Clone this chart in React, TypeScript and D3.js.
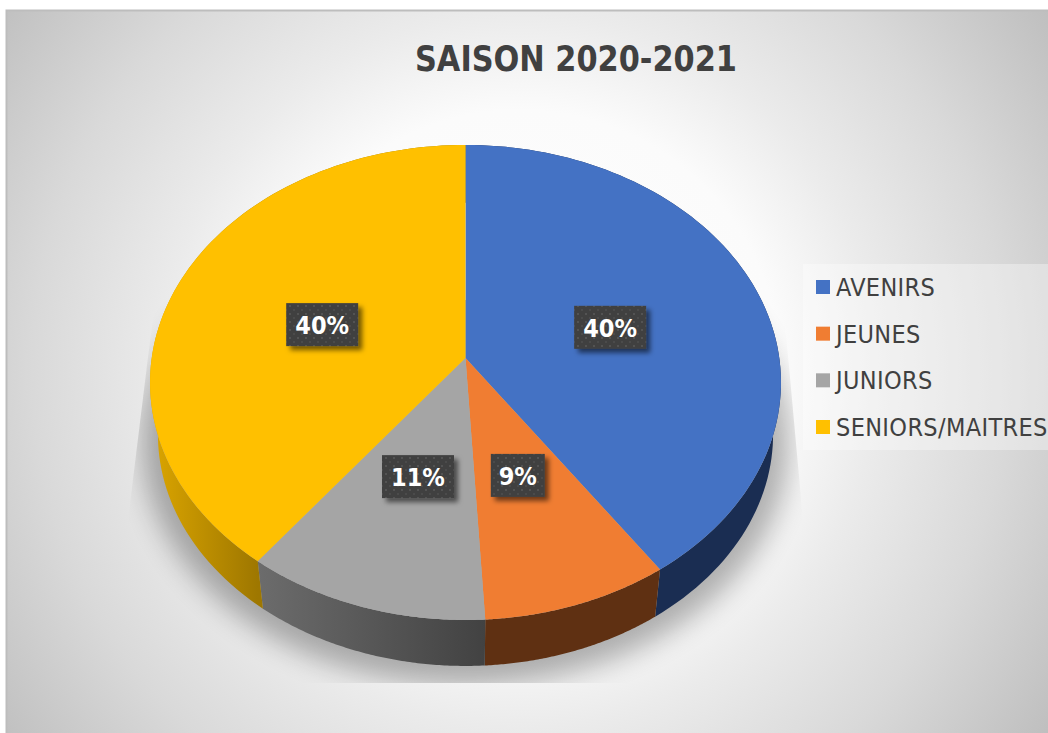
import React, { useEffect, useRef } from 'react'
import * as d3 from 'd3'

const categories = ['AVENIRS', 'JEUNES', 'JUNIORS', 'SENIORS/MAITRES']
const values = [40.4, 8.7, 11.3, 39.6]
const faceColors = ['#4472c4', '#f07d32', '#a5a5a5', '#ffc000']
const wallFrom = ['#1a2d52', '#5f3012', '#6c6c6c', '#dba500']
const wallTo = ['#1a2d52', '#5f3012', '#424242', '#9e7700']
const title = 'SAISON 2020-2021'

const width = 1048, height = 733
const apex = { x: 465.5, y: 358 }
const radiusX = 313.8, radiusY = 235, tilt = 0.103
const wallDrop = 52.5, wallScale = 0.975
const fontFamily = '"DejaVu Sans", sans-serif'

// perspective: the near half of the disc is drawn bigger than the far half
const project = (angle: number, r = 1, drop = 0, scale = 1): [number, number] => {
  const u = Math.sin(angle) * r
  const v = -Math.cos(angle) * r
  const k = 1 - tilt * v
  return [
    apex.x + (radiusX * u * scale) / k,
    apex.y + drop + (radiusY * v * scale) / k,
  ]
}

const rim = (a0: number, a1: number, drop = 0, scale = 1) =>
  d3.range(0, 91).map(i => project(a0 + ((a1 - a0) * i) / 90, 1, drop, scale))

export default function App() {
  const ref = useRef<SVGSVGElement>(null)

  useEffect(() => {
    const svg = d3.select(ref.current)
    svg.selectAll('*').remove()
    const defs = svg.append('defs')

    const bg = defs.append('radialGradient')
      .attr('id', 'bg').attr('gradientUnits', 'userSpaceOnUse')
      .attr('cx', 520).attr('cy', 370).attr('r', 650)
    const bgStops: [number, string][] = [[0, '#ffffff'], [0.4, '#fbfbfb'], [0.55, '#ebebeb'], [0.75, '#d9d9d9'], [1, '#bdbdbd']]
    bgStops.forEach(([o, c]) => bg.append('stop').attr('offset', o).attr('stop-color', c))

    defs.append('filter').attr('id', 'pieShadow')
      .attr('x', '-20%').attr('y', '-20%').attr('width', '140%').attr('height', '140%')
      .append('feGaussianBlur').attr('stdDeviation', 14)

    const labelShadow = defs.append('filter').attr('id', 'labelShadow')
      .attr('x', '-20%').attr('y', '-20%').attr('width', '150%').attr('height', '150%')
    labelShadow.append('feDropShadow')
      .attr('dx', 4).attr('dy', 4).attr('stdDeviation', 2.5)
      .attr('flood-color', '#000').attr('flood-opacity', 0.55)

    const dots = defs.append('pattern').attr('id', 'dots')
      .attr('patternUnits', 'userSpaceOnUse').attr('width', 8).attr('height', 8)
    dots.append('rect').attr('width', 8).attr('height', 8).attr('fill', '#404040')
    dots.append('rect').attr('x', 1).attr('y', 1).attr('width', 2).attr('height', 2).attr('fill', '#525252')
    dots.append('rect').attr('x', 5).attr('y', 5).attr('width', 2).attr('height', 2).attr('fill', '#4c4c4c')

    const pie = d3.pie<number>().sort(null)(values)
    const line = d3.line()

    pie.forEach((d, i) => {
      const [x0] = project(d.startAngle)
      const [x1] = project(d.endAngle)
      const g = defs.append('linearGradient').attr('id', `wall${i}`)
        .attr('gradientUnits', 'userSpaceOnUse')
        .attr('x1', Math.min(x0, x1, i === 3 ? apex.x - radiusX : x0)).attr('x2', i === 3 ? x0 : Math.max(x0, x1))
        .attr('y1', 0).attr('y2', 0)
      g.append('stop').attr('offset', 0).attr('stop-color', wallFrom[i])
      g.append('stop').attr('offset', 1).attr('stop-color', wallTo[i])
    })

    const shadowClip = defs.append('clipPath').attr('id', 'shadowClip')
    shadowClip.append('path').attr('d', line([
      [155, 300], [128, 520], [128, 683], [803, 683], [803, 520], [783, 300],
    ]))

    svg.append('rect')
      .attr('x', 6.5).attr('y', 10.5).attr('width', width).attr('height', height)
      .attr('fill', 'url(#bg)').attr('stroke', '#bdbdbd').attr('stroke-width', 2)

    svg.append('g').attr('clip-path', 'url(#shadowClip)')
      .append('path')
      .attr('d', line(rim(0, 2 * Math.PI, wallDrop + 6, 1.025)))
      .attr('fill', '#000').attr('opacity', 0.3)
      .attr('filter', 'url(#pieShadow)')

    const walls = svg.append('g')
    pie.forEach((d, i) => {
      walls.append('path')
        .attr('d', line([
          ...rim(d.startAngle, d.endAngle),
          ...rim(d.endAngle, d.startAngle, wallDrop, wallScale),
        ]) + 'Z')
        .attr('fill', `url(#wall${i})`)
    })

    const faces = svg.append('g')
    pie.forEach((d, i) => {
      faces.append('path')
        .attr('d', line([[apex.x, apex.y], ...rim(d.startAngle, d.endAngle)]) + 'Z')
        .attr('fill', faceColors[i])
    })

    const labels = svg.append('g')
    pie.forEach(d => {
      const text = d3.format('.0f')(d.value) + '%'
      const [cx, cy0] = project((d.startAngle + d.endAngle) / 2, 0.49)
      const cy = cy0 + 3
      const w = 36 + 18 * (text.length - 1)
      labels.append('rect')
        .attr('x', cx - w / 2).attr('y', cy - 21.5).attr('width', w).attr('height', 43)
        .attr('fill', 'url(#dots)').attr('filter', 'url(#labelShadow)')
      labels.append('text')
        .attr('x', cx).attr('y', cy + 9.5)
        .attr('text-anchor', 'middle')
        .attr('font-family', fontFamily).attr('font-stretch', 'condensed')
        .attr('font-weight', 700).attr('font-size', 25).attr('fill', '#fff')
        .text(text)
    })

    svg.append('text')
      .attr('x', 576).attr('y', 71)
      .attr('text-anchor', 'middle')
      .attr('font-family', fontFamily).attr('font-stretch', 'condensed')
      .attr('font-weight', 700).attr('font-size', 35).attr('fill', '#404040')
      .attr('textLength', 322).attr('lengthAdjust', 'spacingAndGlyphs')
      .text(title)

    svg.append('rect')
      .attr('x', 803).attr('y', 264).attr('width', 245).attr('height', 186)
      .attr('fill', '#fff').attr('opacity', 0.35)

    const legendY = d3.scalePoint<string>().domain(categories).range([287, 427])
    const legend = svg.append('g').selectAll('g').data(categories).join('g')
      .attr('transform', d => `translate(816,${legendY(d)})`)
    legend.append('rect')
      .attr('y', -7).attr('width', 14).attr('height', 14)
      .attr('fill', (_, i) => faceColors[i])
    legend.append('text')
      .attr('x', 20).attr('y', 9)
      .attr('font-family', fontFamily).attr('font-stretch', 'condensed')
      .attr('font-size', 25).attr('letter-spacing', 0.35).attr('fill', '#404040')
      .text(d => d)
  }, [])

  return (
    <svg ref={ref} width={width} height={height}
      style={{ position: 'absolute', left: 0, top: 0, background: '#fff' }} />
  )
}
